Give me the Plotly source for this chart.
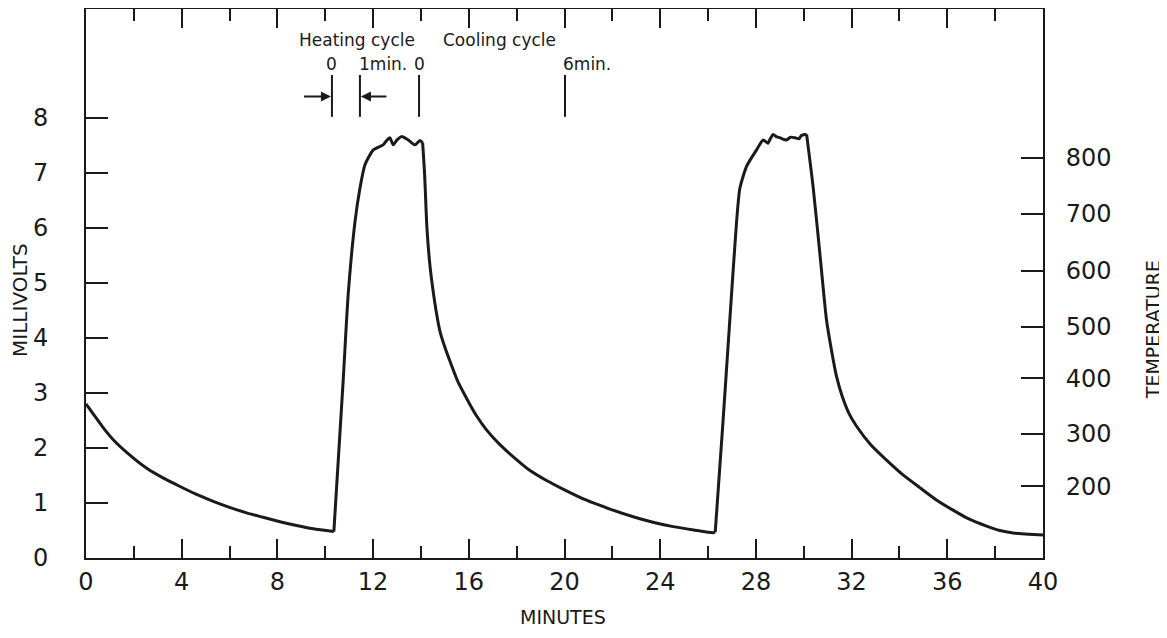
import plotly.graph_objects as go

# ---- data ----
minutes = [0.0, 0.3, 0.7, 1.14, 1.7, 2.54, 3.2, 3.93, 4.6, 5.32, 6.0, 6.71, 7.4, 8.11,
           8.8, 9.50, 10.36,
           10.75, 10.96, 11.24, 11.45, 11.66, 12.01, 12.42, 12.55, 12.70, 12.84,
           13.0, 13.19, 13.47, 13.75, 13.96, 14.07,
           14.15, 14.25, 14.38, 14.51, 14.65, 14.79, 15.0, 15.21, 15.55, 15.91, 16.3,
           16.74, 17.3, 17.86, 18.5, 19.25, 20.0, 20.92, 21.9, 22.87, 23.7, 24.54,
           25.4, 26.21, 26.30,
           26.63, 26.91, 27.19, 27.33, 27.61, 28.03, 28.30, 28.51, 28.6, 28.72,
           28.85, 29.0, 29.1, 29.28, 29.45, 29.63, 29.8, 29.9, 30.05, 30.12,
           30.39, 30.67, 30.95, 31.15, 31.37, 31.6, 31.9, 32.2, 32.8, 33.46, 34.1,
           34.85, 35.5, 36.24, 36.9, 37.64, 38.2, 38.75, 39.4, 40.0]
millivolts = [2.80, 2.62, 2.38, 2.15, 1.92, 1.63, 1.46, 1.30, 1.16, 1.03, 0.92, 0.82, 0.74,
              0.66, 0.59, 0.53, 0.48,
              3.23, 4.80, 6.10, 6.72, 7.15, 7.42, 7.51, 7.58, 7.64, 7.51,
              7.60, 7.66, 7.60, 7.51, 7.59, 7.55,
              7.0, 6.0, 5.3, 4.85, 4.45, 4.13, 3.83, 3.58, 3.2, 2.90, 2.60,
              2.33, 2.06, 1.84, 1.61, 1.41, 1.24, 1.05, 0.89, 0.75, 0.65, 0.57,
              0.51, 0.46, 0.47,
              2.51, 4.33, 6.10, 6.72, 7.12, 7.42, 7.60, 7.54, 7.62, 7.70,
              7.66, 7.64, 7.62, 7.60, 7.65, 7.64, 7.62, 7.68, 7.70, 7.70,
              6.75, 5.55, 4.33, 3.80, 3.30, 2.95, 2.62, 2.40, 2.06, 1.78, 1.53,
              1.28, 1.07, 0.87, 0.71, 0.58, 0.50, 0.455, 0.43, 0.42]

# times where the furnace switched (sharp corners of the trace)
switch_minutes = [10.36, 14.07, 26.30, 30.12]

mv_ticks = [0, 1, 2, 3, 4, 5, 6, 7, 8]
minute_ticks = [0, 4, 8, 12, 16, 20, 24, 28, 32, 36, 40]
temp_labels = [200, 300, 400, 500, 600, 700, 800]
temp_mv = [1.30, 2.26, 3.27, 4.20, 5.22, 6.26, 7.28]

# cycle markers at the top
marker_minutes = [10.28, 11.45, 13.92, 20.02]
marker_labels = ["0", "1min.", "0", "6min."]

INK = "#1a1a1a"
FONT = "DejaVu Sans"

fig = go.Figure()

# draw the record as smooth pieces between the switching corners
cut_idx = [0] + [minutes.index(t) for t in switch_minutes] + [len(minutes) - 1]
for a, b in zip(cut_idx[:-1], cut_idx[1:]):
    fig.add_trace(go.Scatter(x=minutes[a:b + 1], y=millivolts[a:b + 1], mode="lines",
                             line=dict(color=INK, width=3, shape="spline",
                                       smoothing=0.6),
                             showlegend=False, hoverinfo="skip"))

# vertical cycle markers
for mx in marker_minutes:
    fig.add_trace(go.Scatter(x=[mx, mx], y=[8.02, 8.78], mode="lines",
                             line=dict(color=INK, width=2), showlegend=False,
                             hoverinfo="skip"))

# marker labels
label_anchor = ["center", "left", "center", "left"]
label_shift = [0, -3, 0, -4]
for mx, txt, anc, sh in zip(marker_minutes, marker_labels, label_anchor, label_shift):
    fig.add_annotation(x=mx, y=8.98, text=txt, showarrow=False, xanchor=anc,
                       xshift=sh, yanchor="middle",
                       font=dict(family=FONT, size=17, color=INK))

fig.add_annotation(x=11.32, y=9.42, text="Heating cycle", showarrow=False,
                   font=dict(family=FONT, size=17, color=INK))
fig.add_annotation(x=17.3, y=9.42, text="Cooling cycle", showarrow=False,
                   font=dict(family=FONT, size=17, color=INK))

# arrows pointing at the 1-minute heating interval
fig.add_annotation(x=marker_minutes[0], y=8.39, ax=9.05, ay=8.39,
                   xref="x", yref="y", axref="x", ayref="y", text="",
                   showarrow=True, arrowhead=2, arrowsize=1, arrowwidth=2,
                   arrowcolor=INK, standoff=1)
fig.add_annotation(x=marker_minutes[1], y=8.39, ax=12.62, ay=8.39,
                   xref="x", yref="y", axref="x", ayref="y", text="",
                   showarrow=True, arrowhead=2, arrowsize=1, arrowwidth=2,
                   arrowcolor=INK, standoff=1)

# axis titles
fig.add_annotation(xref="paper", yref="paper", x=-0.069, y=0.47,
                   xanchor="center", yanchor="middle",
                   text="MILLIVOLTS", textangle=-90, showarrow=False,
                   font=dict(family=FONT, size=20, color=INK))
fig.add_annotation(xref="paper", yref="paper", x=1.115, y=0.415,
                   xanchor="center", yanchor="middle",
                   text="TEMPERATURE", textangle=-90, showarrow=False,
                   font=dict(family=FONT, size=19, color=INK))
fig.add_annotation(xref="paper", yref="paper", x=0.498, y=-0.131,
                   xanchor="center", yanchor="bottom",
                   text="MINUTES", showarrow=False,
                   font=dict(family=FONT, size=19, color=INK))

tickfont = dict(family=FONT, size=24, color=INK)

# the page body has an 8px margin, so the figure is sized to fit inside it
fig.update_layout(
    width=1159, height=622,
    margin=dict(l=78, r=124, t=1, b=72, autoexpand=False),
    paper_bgcolor="white", plot_bgcolor="white",
    showlegend=False,
    xaxis=dict(range=[0, 40], tickvals=minute_ticks, ticks="inside",
               ticklen=19, tickwidth=1.5, tickcolor=INK,
               minor=dict(dtick=2, tick0=0, ticks="inside", ticklen=12,
                          tickwidth=1.5, tickcolor=INK),
               showline=True, linecolor=INK, linewidth=2, automargin=False,
               showgrid=False, zeroline=False, tickfont=tickfont,
               ticklabelstandoff=1),
    xaxis2=dict(range=[0, 40], overlaying="x", side="top", tickvals=minute_ticks,
                ticks="inside", ticklen=19, tickwidth=1.5, tickcolor=INK,
                minor=dict(dtick=2, tick0=0, ticks="inside", ticklen=12,
                           tickwidth=1.5, tickcolor=INK),
                showline=True, linecolor=INK, linewidth=2, showgrid=False,
                zeroline=False, showticklabels=False, automargin=False),
    yaxis=dict(range=[0, 9.98], tickvals=mv_ticks, ticks="inside", ticklen=22,
               tickwidth=1.5, tickcolor=INK, showline=True, linecolor=INK,
               linewidth=2, showgrid=False, zeroline=False, tickfont=tickfont,
               ticklabelstandoff=31, automargin=False),
    yaxis2=dict(range=[0, 9.98], overlaying="y", side="right", tickvals=temp_mv,
                ticktext=[str(t) for t in temp_labels], ticks="inside",
                ticklen=22, tickwidth=1.5, tickcolor=INK, showline=True,
                linecolor=INK, linewidth=2, showgrid=False, zeroline=False,
                tickfont=tickfont, ticklabelstandoff=16, automargin=False),
)

# invisible trace so that the secondary axes are drawn
fig.add_trace(go.Scatter(x=[0], y=[0], xaxis="x2", yaxis="y2", mode="markers",
                         marker=dict(opacity=0), showlegend=False, hoverinfo="skip"))

fig.write_html("out.html")
